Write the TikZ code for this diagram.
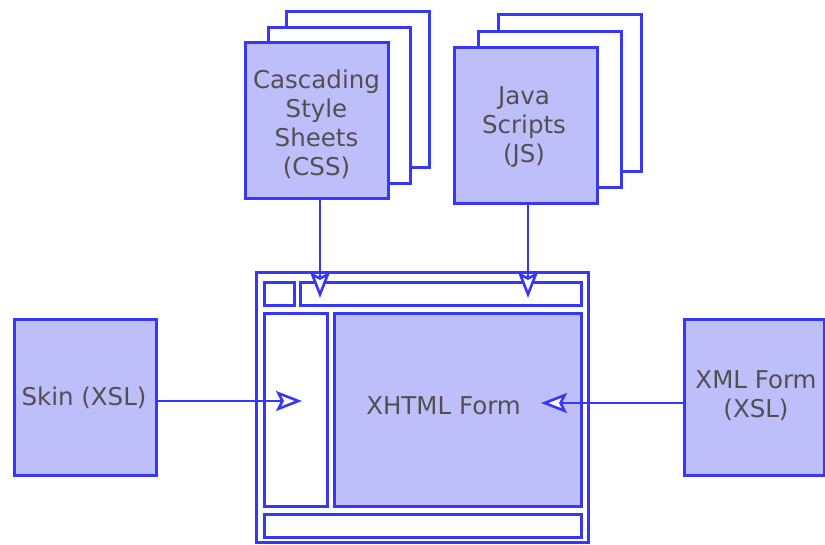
\documentclass[tikz,border=0pt]{standalone}
\usepackage{fontspec}
\setmainfont{DejaVu Sans}
\usetikzlibrary{arrows.meta}
\definecolor{edgeblue}{RGB}{55,55,250}
\definecolor{boxfill}{RGB}{190,190,250}
\definecolor{labelgray}{RGB}{80,80,80}
\tikzset{
  panel/.style={draw=edgeblue, line width=3pt, inner sep=0pt, outer sep=0pt},
  filledbox/.style={panel, fill=boxfill},
  blankbox/.style={panel, fill=white},
  caption/.style={text=labelgray, align=center, inner sep=0pt,
    font=\fontsize{24.5}{29}\selectfont},
  flow/.style={draw=edgeblue, line width=2.6pt,
    -{Stealth[length=26pt, width=20pt, inset=5pt, fill=white, line width=2.6pt]}},
}
\begin{document}
\begin{tikzpicture}[x=1pt, y=-1pt]
  \useasboundingbox (0,0) rectangle (825,544);

  % stacked style sheets
  \node[blankbox, minimum width=143pt, minimum height=156pt] (css3) at (357.5,89) {};
  \node[blankbox, minimum width=142pt, minimum height=156pt] (css2) at (339,105) {};
  \node[filledbox, minimum width=143pt, minimum height=156pt] (css) at (316.5,120) {};
  \node[caption] (csstext) at (316.5,124) {Cascading\\Style\\Sheets\\(CSS)};

  % stacked scripts
  \node[blankbox, minimum width=143pt, minimum height=157pt] (js3) at (569.5,92.5) {};
  \node[blankbox, minimum width=143pt, minimum height=156pt] (js2) at (549.5,109) {};
  \node[filledbox, minimum width=143pt, minimum height=156pt] (js) at (525.5,125) {};
  \node[caption] (jstext) at (524,127) {Java\\Scripts\\(JS)};

  % page layout frame
  \node[blankbox, minimum width=332pt, minimum height=270pt] (frame) at (422,407) {};
  \node[blankbox, minimum width=30pt, minimum height=23pt] (logo) at (279,293.5) {};
  \node[blankbox, minimum width=281pt, minimum height=23pt] (topbar) at (440.5,293.5) {};
  \node[blankbox, minimum width=63pt, minimum height=193pt] (sidebar) at (295.5,409.5) {};
  \node[filledbox, minimum width=247pt, minimum height=193pt] (form) at (457.5,409.5) {};
  \node[caption] (formtext) at (443.5,406) {XHTML Form};
  \node[blankbox, minimum width=317pt, minimum height=23pt] (footer) at (422.5,525.5) {};

  % side sources
  \node[filledbox, minimum width=142pt, minimum height=156pt] (skin) at (85,397) {};
  \node[caption] (skintext) at (84,398) {Skin (XSL)};
  \node[filledbox, minimum width=140pt, minimum height=156pt] (xml) at (754,397) {};
  \node[caption] (xmltext) at (756,396) {XML Form\\(XSL)};

  % arrow targets inside the frame
  \coordinate (cssin) at (320,298);
  \coordinate (jsin) at (528,298);
  \coordinate (skinin) at (302,401);
  \coordinate (xmlin) at (541,403);

  \draw[flow] (css.south -| cssin) -- (cssin);
  \draw[flow] (js.south -| jsin) -- (jsin);
  \draw[flow] (skin.east |- skinin) -- (skinin);
  \draw[flow] (xml.west |- xmlin) -- (xmlin);
\end{tikzpicture}
\end{document}
